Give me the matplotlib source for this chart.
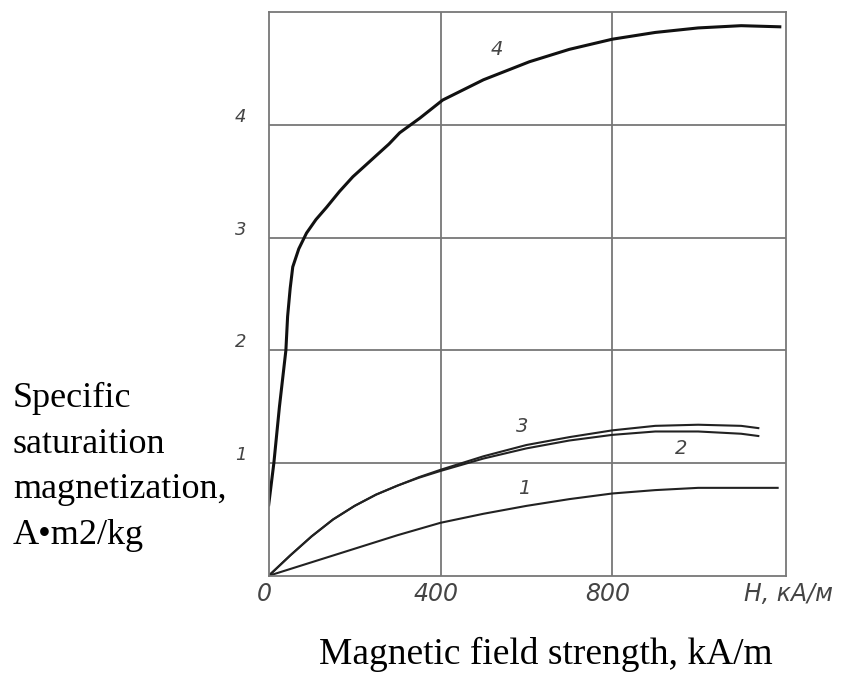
import numpy as np
import matplotlib
matplotlib.use('Agg')
import matplotlib.pyplot as plt

# curve data (H in kA/m, M in A*m2/kg)
h1 = [0, 100, 200, 300, 400, 500, 600, 700, 800, 900, 1000, 1100, 1185]
m1 = [0, 0.12, 0.24, 0.36, 0.47, 0.55, 0.62, 0.68, 0.73, 0.76, 0.78, 0.78, 0.78]

h2 = [0, 50, 100, 150, 200, 250, 300, 350, 400, 500, 600, 700, 800, 900, 1000, 1100, 1140]
m2 = [0, 0.18, 0.35, 0.50, 0.62, 0.72, 0.80, 0.87, 0.93, 1.04, 1.13, 1.20, 1.25, 1.28, 1.28, 1.26, 1.24]

h3 = [0, 50, 100, 150, 200, 250, 300, 350, 400, 500, 600, 700, 800, 900, 1000, 1100, 1140]
m3 = [0, 0.18, 0.35, 0.50, 0.62, 0.72, 0.80, 0.875, 0.94, 1.06, 1.16, 1.23, 1.29, 1.33, 1.34, 1.33, 1.31]

h4 = [0, 12, 25, 40, 44, 50, 56, 70, 88, 110, 135, 165, 196, 225, 251, 280, 305,
      352, 405, 500, 607, 700, 800, 900, 1000, 1100, 1190]
m4 = [0.63, 1.0, 1.5, 2.0, 2.3, 2.55, 2.74, 2.9, 3.04, 3.16, 3.27, 3.41, 3.54, 3.64, 3.73, 3.83, 3.93,
      4.06, 4.22, 4.4, 4.56, 4.67, 4.76, 4.82, 4.86, 4.88, 4.87]

xticks = [0, 400, 800]
xticklabels = ['0', '400', '800']
yticks = [1, 2, 3, 4]

fig = plt.figure(figsize=(8.64, 6.75), dpi=100)
ax = fig.add_axes([0.311, 0.147, 0.599, 0.835])

ax.plot(h1, m1, color='#222222', lw=1.5)
ax.plot(h2, m2, color='#222222', lw=1.5)
ax.plot(h3, m3, color='#222222', lw=1.5)
ax.plot(h4, m4, color='#111111', lw=2.2)

ax.set_xlim(0, 1205)
ax.set_ylim(0, 5)

# grid
for x in [400, 800]:
    ax.axvline(x, color='#777777', lw=1.3, zorder=0)
for y in yticks:
    ax.axhline(y, color='#777777', lw=1.3, zorder=0)
for s in ax.spines.values():
    s.set_color('#777777')
    s.set_linewidth(1.3)

ax.set_xticks([])
ax.set_yticks([])

tk = dict(color='#444444', style='italic', family='DejaVu Sans')
for x, lab in zip(xticks, xticklabels):
    ax.text(x - 10, -0.16, lab, ha='center', va='center', fontsize=17, **tk)
ax.text(1210, -0.16, 'H, кА/м', ha='center', va='center', fontsize=17, **tk)
for y in yticks:
    ax.text(-65, y + 0.07, str(y), ha='center', va='center', fontsize=13, **tk)

# curve numbers
ax.text(530, 4.67, '4', ha='center', va='center', fontsize=14, **tk)
ax.text(590, 1.32, '3', ha='center', va='center', fontsize=14, **tk)
ax.text(960, 1.13, '2', ha='center', va='center', fontsize=14, **tk)
ax.text(595, 0.77, '1', ha='center', va='center', fontsize=14, **tk)

fig.text(0.015, 0.434, 'Specific\nsaturaition\nmagnetization,\nA•m2/kg',
         ha='left', va='top', fontsize=26, family='Liberation Serif',
         linespacing=1.5, color='black')
fig.text(0.632, 0.03, 'Magnetic field strength, kA/m', ha='center', va='center',
         fontsize=27, family='Liberation Serif', color='black')

fig.savefig('out.png', dpi=100)
